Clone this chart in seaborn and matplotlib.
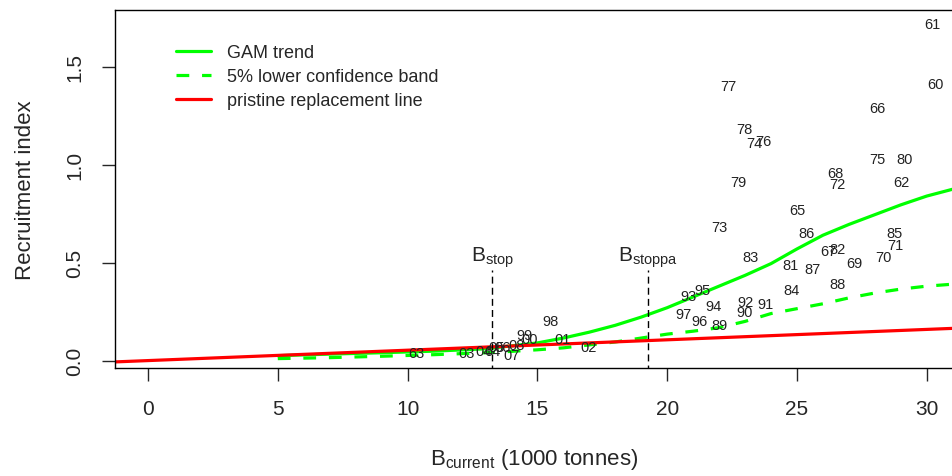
import numpy as np
import pandas as pd
import matplotlib
matplotlib.use("Agg")
import matplotlib.pyplot as plt
import seaborn as sns

# year labels placed at (biomass, recruitment)
years = ["61", "60", "77", "66", "78", "74", "76", "79", "75", "80", "68", "72",
         "62", "65", "73", "86", "85", "71", "83", "67", "82", "81", "87", "69",
         "70", "84", "88", "93", "95", "94", "92", "91", "90", "97", "96", "89",
         "98", "99", "01", "02", "03", "04", "05", "06", "07", "08", "00", "63", "64"]
biomass = [30.23, 30.34, 22.37, 28.11, 22.99, 23.37, 23.72, 22.76, 28.11, 29.15, 26.49, 26.57,
           29.03, 25.03, 22.03, 25.38, 28.76, 28.80, 23.22, 26.22, 26.57, 24.76, 25.61, 27.22,
           28.34, 24.80, 26.57, 20.83, 21.37, 21.79, 23.03, 23.80, 22.99, 20.61, 21.26, 22.03,
           15.52, 14.52, 15.98, 16.98, 12.28, 12.94, 13.44, 13.67, 14.02, 14.21, 14.71, 10.32, 13.25]
recruit = [1.72, 1.41, 1.40, 1.29, 1.18, 1.11, 1.12, 0.91, 1.03, 1.03, 0.96, 0.90,
           0.91, 0.77, 0.68, 0.65, 0.65, 0.59, 0.53, 0.56, 0.57, 0.49, 0.47, 0.50,
           0.53, 0.36, 0.39, 0.33, 0.36, 0.28, 0.30, 0.29, 0.25, 0.24, 0.20, 0.18,
           0.20, 0.13, 0.11, 0.07, 0.04, 0.05, 0.07, 0.07, 0.03, 0.08, 0.11, 0.04, 0.05]

# GAM trend and its 5% lower band
gam_x = [5, 7, 9, 11, 13, 14, 15, 16, 17, 18, 19, 20, 21, 22, 23, 24, 25, 26, 27, 28, 29, 30, 31]
gam_y = [0.025, 0.033, 0.04, 0.048, 0.06, 0.075, 0.09, 0.115, 0.145, 0.18, 0.222, 0.27,
         0.325, 0.38, 0.435, 0.495, 0.57, 0.64, 0.695, 0.745, 0.795, 0.84, 0.875]
low_y = [0.01, 0.015, 0.022, 0.03, 0.04, 0.047, 0.055, 0.065, 0.08, 0.095, 0.115, 0.135,
         0.15, 0.168, 0.2, 0.24, 0.265, 0.29, 0.32, 0.345, 0.365, 0.38, 0.39]

# pristine replacement line
rep_x = [-1.3, 31.3]
rep_y = [-0.007, 0.166]

b_stop = 13.26
b_stoppa = 19.26

sns.set_style("white")
plt.rcParams["font.family"] = ["Liberation Sans", "DejaVu Sans"]
plt.rcParams["mathtext.fontset"] = "custom"
plt.rcParams["mathtext.rm"] = "Liberation Sans"

fig = plt.figure(figsize=(9.53, 4.77), dpi=100)
ax = fig.add_axes([0.1207, 0.2264, 0.879, 0.7505])

green = "#00ff00"
gam = pd.DataFrame({"x": gam_x, "y": gam_y, "low": low_y})
sns.lineplot(data=gam, x="x", y="y", color=green, linewidth=2.3, ax=ax,
             label="GAM trend")
sns.lineplot(data=gam, x="x", y="low", color=green, linewidth=2.3, ax=ax,
             label="5% lower confidence band")
ax.lines[-1].set_dashes((4, 4))
sns.lineplot(x=rep_x, y=rep_y, color="#ff0000", linewidth=2.3, ax=ax,
             label="pristine replacement line")

for yr, bx, ry in zip(years, biomass, recruit):
    ax.text(bx, ry, yr, fontsize=10.5, ha="center", va="center", color="#222222")

for xv, lab in [(b_stop, r"$\mathregular{B_{stop}}$"), (b_stoppa, r"$\mathregular{B_{stoppa}}$")]:
    ax.plot([xv, xv], [-0.06, 0.46], color="black", linewidth=1, dashes=(5, 3))
    ax.text(xv, 0.47, lab, fontsize=15, ha="center", va="bottom")

ax.set_xlim(-1.27, 31.0)
ax.set_ylim(-0.038, 1.79)
ax.set_xticks([0, 5, 10, 15, 20, 25, 30])
ax.set_yticks([0.0, 0.5, 1.0, 1.5])
ax.set_yticklabels(["0.0", "0.5", "1.0", "1.5"], rotation=90, va="center")
ax.tick_params(axis="both", direction="out", length=9.4, width=1, labelsize=15,
               bottom=True, left=True)
ax.tick_params(axis="x", pad=12.8)
ax.tick_params(axis="y", pad=12.5)
ax.set_xlabel(r"$\mathregular{B_{current}}$ (1000 tonnes)", fontsize=16, labelpad=20.5)
ax.set_ylabel("Recruitment index", fontsize=16, labelpad=21)
for s in ax.spines.values():
    s.set_color("black")
    s.set_linewidth(1)

ax.legend(loc="upper left", bbox_to_anchor=(0.0537, 0.95), frameon=False,
          fontsize=13, handlelength=1.9, handletextpad=0.9, labelspacing=0.38)

fig.savefig("out.png", dpi=100)
